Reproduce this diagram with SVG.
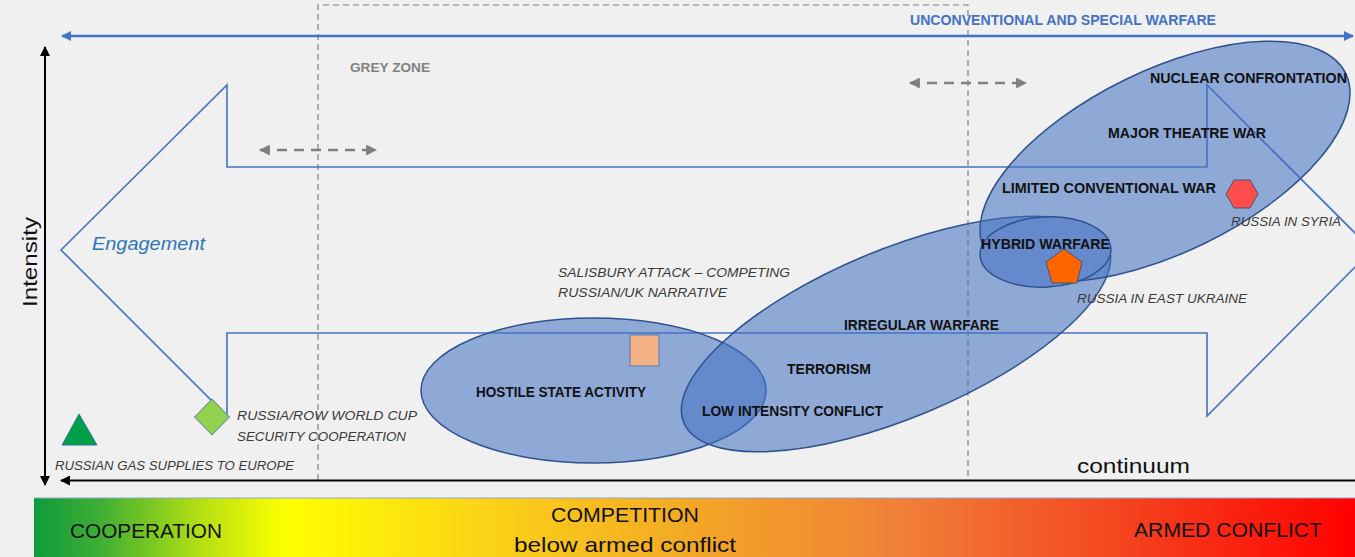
<svg xmlns="http://www.w3.org/2000/svg" width="1355" height="557" viewBox="0 0 1355 557">
<defs>
<style>
.lbl{font-family:"Liberation Sans",Arial,sans-serif;font-weight:bold;font-size:14px;fill:#111;}
.it{font-family:"Liberation Sans",Arial,sans-serif;font-style:italic;font-size:13px;fill:#3a3a3a;}
.bar{font-family:"Liberation Sans",Arial,sans-serif;font-size:21px;fill:#111;}
.ell{fill:#4472c4;fill-opacity:0.56;stroke:#2f528f;stroke-width:1.5;}
.gdash{stroke:#808080;stroke-width:2.5;stroke-dasharray:10 7;fill:none;}
</style>
<marker id="blueHead" viewBox="0 0 10 10" refX="9" refY="5" markerWidth="12" markerHeight="10" markerUnits="userSpaceOnUse" orient="auto-start-reverse">
<path d="M0,0 L10,5 L0,10 Z" fill="#4472c4"/>
</marker>
<marker id="blackHead" viewBox="0 0 10 10" refX="9" refY="5" markerWidth="12" markerHeight="10" markerUnits="userSpaceOnUse" orient="auto-start-reverse">
<path d="M0,0 L10,5 L0,10 Z" fill="#000"/>
</marker>
<marker id="greyHead" viewBox="0 0 10 10" refX="9" refY="5" markerWidth="11" markerHeight="11" markerUnits="userSpaceOnUse" orient="auto-start-reverse">
<path d="M0,0 L10,5 L0,10 Z" fill="#808080"/>
</marker>
<linearGradient id="spectrum" x1="0" y1="0" x2="1" y2="0">
<stop offset="0" stop-color="#0f9b3c"/>
<stop offset="0.05" stop-color="#3fae34"/>
<stop offset="0.126" stop-color="#b4e012"/>
<stop offset="0.19" stop-color="#ffff00"/>
<stop offset="0.338" stop-color="#fbd416"/>
<stop offset="0.504" stop-color="#f3a626"/>
<stop offset="0.656" stop-color="#f08038"/>
<stop offset="0.807" stop-color="#f44a22"/>
<stop offset="1" stop-color="#ff0000"/>
</linearGradient>
</defs>

<rect x="0" y="0" width="1355" height="557" fill="#f0f0f0"/>

<!-- spectrum bar -->
<g id="spectrum-bar">
<rect x="34" y="498" width="1321" height="59" fill="url(#spectrum)"/>
<line x1="34" y1="498" x2="1355" y2="498" stroke="#8fa6cf" stroke-width="1"/>
<text class="bar" x="70" y="538" textLength="152" lengthAdjust="spacingAndGlyphs">COOPERATION</text>
<text class="bar" x="551" y="522" textLength="148" lengthAdjust="spacingAndGlyphs">COMPETITION</text>
<text class="bar" x="514" y="552" textLength="222" lengthAdjust="spacingAndGlyphs">below armed conflict</text>
<text class="bar" x="1134" y="537" textLength="188" lengthAdjust="spacingAndGlyphs">ARMED CONFLICT</text>
</g>

<!-- grey zone frame -->
<g id="grey-zone">
<path d="M318,480 L318,5 L968,5 L968,480" fill="none" stroke="#808080" stroke-width="1.2" stroke-dasharray="6 4"/>
<text x="350" y="72" font-family="Liberation Sans,Arial,sans-serif" font-weight="bold" font-size="13" fill="#808080" textLength="80" lengthAdjust="spacingAndGlyphs">GREY ZONE</text>
</g>

<!-- engagement double arrow outline -->
<g id="engagement">
<path d="M61,250 L227,85 L227,167 L1207,167 L1207,85 L1372,250 L1207,416 L1207,333 L227,333 L227,416 Z" fill="none" stroke="#4472c4" stroke-width="1.6"/>
<text x="92" y="250" font-family="Liberation Sans,Arial,sans-serif" font-style="italic" font-size="18" fill="#2e75b6" textLength="113" lengthAdjust="spacingAndGlyphs">Engagement</text>
</g>

<!-- connectors -->
<g id="connectors">
<line x1="62" y1="36" x2="1353" y2="36" stroke="#4472c4" stroke-width="2.5" marker-start="url(#blueHead)" marker-end="url(#blueHead)"/>
<line x1="45" y1="47" x2="45" y2="485" stroke="#000" stroke-width="2" marker-start="url(#blackHead)" marker-end="url(#blackHead)"/>
<line x1="1355" y1="480.5" x2="61" y2="480.5" stroke="#000" stroke-width="2.2" marker-end="url(#blackHead)"/>
<line x1="260" y1="150" x2="376" y2="150" class="gdash" marker-start="url(#greyHead)" marker-end="url(#greyHead)"/>
<line x1="910" y1="83" x2="1026" y2="83" class="gdash" marker-start="url(#greyHead)" marker-end="url(#greyHead)"/>
</g>

<text x="910" y="25" font-family="Liberation Sans,Arial,sans-serif" font-weight="bold" font-size="14" fill="#4472c4" textLength="306" lengthAdjust="spacingAndGlyphs">UNCONVENTIONAL AND SPECIAL WARFARE</text>
<text transform="translate(37,262) rotate(-90)" text-anchor="middle" font-family="Liberation Sans,Arial,sans-serif" font-size="20" fill="#111" textLength="90" lengthAdjust="spacingAndGlyphs">Intensity</text>
<text x="1077" y="473" font-family="Liberation Sans,Arial,sans-serif" font-size="20" fill="#111" textLength="113" lengthAdjust="spacingAndGlyphs">continuum</text>

<!-- ellipses -->
<g id="hostile-state-activity">
<ellipse class="ell" cx="593.5" cy="390.5" rx="172.5" ry="72.5"/>
</g>
<g id="irregular-warfare">
<ellipse class="ell" cx="896" cy="334" rx="230" ry="84" transform="rotate(-22.7 896 334)"/>
</g>
<g id="conventional-war">
<ellipse class="ell" cx="1165" cy="161.5" rx="201" ry="91" transform="rotate(-26 1165 161.5)"/>
</g>
<g id="hybrid-warfare">
<ellipse cx="1045.5" cy="252" rx="65.5" ry="35" fill="#6688cc" stroke="#2f528f" stroke-width="1.5" transform="rotate(-3 1045.5 252)"/>
</g>

<!-- ellipse labels -->
<g id="labels">
<text class="lbl" x="1150" y="83" textLength="197" lengthAdjust="spacingAndGlyphs">NUCLEAR CONFRONTATION</text>
<text class="lbl" x="1108" y="138" textLength="158" lengthAdjust="spacingAndGlyphs">MAJOR THEATRE WAR</text>
<text class="lbl" x="1002" y="193" textLength="214" lengthAdjust="spacingAndGlyphs">LIMITED CONVENTIONAL WAR</text>
<text class="lbl" x="981" y="249" textLength="129" lengthAdjust="spacingAndGlyphs">HYBRID WARFARE</text>
<text class="lbl" x="844" y="330" textLength="155" lengthAdjust="spacingAndGlyphs">IRREGULAR WARFARE</text>
<text class="lbl" x="787" y="374" textLength="84" lengthAdjust="spacingAndGlyphs">TERRORISM</text>
<text class="lbl" x="476" y="397" textLength="170" lengthAdjust="spacingAndGlyphs">HOSTILE STATE ACTIVITY</text>
<text class="lbl" x="702" y="416" textLength="181" lengthAdjust="spacingAndGlyphs">LOW INTENSITY CONFLICT</text>
</g>

<!-- events -->
<g id="russia-in-syria">
<polygon points="1226,194 1234,180 1250,180 1258,194 1250,208 1234,208" fill="#ff4d4d" stroke="#44546a" stroke-width="1"/>
<text class="it" x="1231" y="226" textLength="110" lengthAdjust="spacingAndGlyphs">RUSSIA IN SYRIA</text>
</g>
<g id="russia-in-east-ukraine">
<polygon points="1064,249 1082,262 1077,283 1052,283 1046,262" fill="#ff6600" stroke="#44546a" stroke-width="1"/>
<text class="it" x="1077" y="303" textLength="170" lengthAdjust="spacingAndGlyphs">RUSSIA IN EAST UKRAINE</text>
</g>
<g id="salisbury-attack">
<rect x="630" y="335" width="29" height="31" fill="#f4b183" stroke="#5b7bb5" stroke-width="1"/>
<text class="it" x="558" y="277" textLength="232" lengthAdjust="spacingAndGlyphs">SALISBURY ATTACK – COMPETING</text>
<text class="it" x="558" y="297" textLength="169" lengthAdjust="spacingAndGlyphs">RUSSIAN/UK NARRATIVE</text>
</g>
<g id="world-cup-cooperation">
<polygon points="212,399 229.5,417 212,435 194.5,417" fill="#92d050" stroke="#5a7fa8" stroke-width="1"/>
<text class="it" x="237" y="420" textLength="180" lengthAdjust="spacingAndGlyphs">RUSSIA/ROW WORLD CUP</text>
<text class="it" x="237" y="441" textLength="169" lengthAdjust="spacingAndGlyphs">SECURITY COOPERATION</text>
</g>
<g id="russian-gas-supplies">
<polygon points="79,414 97,445 62,445" fill="#00a04b" stroke="#41719c" stroke-width="1"/>
<text class="it" x="55" y="470" textLength="239" lengthAdjust="spacingAndGlyphs">RUSSIAN GAS SUPPLIES TO EUROPE</text>
</g>
</svg>
